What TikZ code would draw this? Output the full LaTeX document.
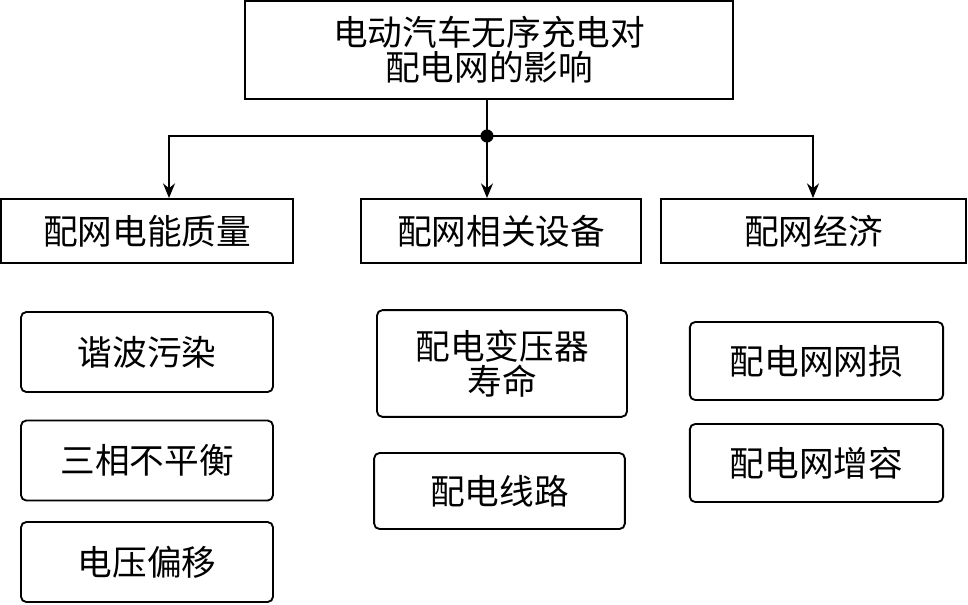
\documentclass[tikz,border=0pt]{standalone}
\usepackage{fontspec}
\setmainfont{Noto Sans CJK SC}
\usetikzlibrary{arrows.meta}
\begin{document}
\begin{tikzpicture}[x=0.75pt,y=-0.75pt,
  box/.style={draw,line width=1.4pt,align=center,inner sep=0pt,font=\fontsize{26}{26.5}\selectfont},
  cat/.style={box,minimum height=48pt},
  item/.style={box,rounded corners=4pt,minimum height=60pt},
  arr/.style={-{Stealth[length=11pt,width=9pt]},line width=1.4pt}]
\useasboundingbox (0,0) rectangle (968,604);
\node[box,minimum width=366pt,minimum height=73.5pt] (top) at (489,50) {电动汽车无序充电对\\配电网的影响};
\node[cat,minimum width=219pt] (q1) at (147,231) {配网电能质量};
\node[cat,minimum width=210pt] (q2) at (501,231) {配网相关设备};
\node[cat,minimum width=229pt] (q3) at (813.5,231) {配网经济};
% left column
\node[item,minimum width=189pt] (hw) at (147,352) {谐波污染};
\node[item,minimum width=189pt] (sx) at (147,460.5) {三相不平衡};
\node[item,minimum width=189pt] (dy) at (147,562) {电压偏移};
% middle column
\node[item,minimum width=187.5pt,minimum height=80pt] (by) at (502,363.5) {配电变压器\\寿命};
\node[item,minimum width=188pt,minimum height=57pt] (xl) at (499.5,491) {配电线路};
% right column
\node[item,minimum width=190pt,minimum height=58.5pt] (ws) at (816.5,361) {配电网网损};
\node[item,minimum width=190pt,minimum height=58.5pt] (zr) at (816.5,463) {配电网增容};
\coordinate (hub) at (487,136);
\coordinate (la) at (169,136);
\coordinate (ra) at (813,136);
\draw[arr] (top.south -| hub) -- (hub |- q2.north);
\draw[arr] (hub) -- (la) -- (la |- q1.north);
\draw[arr] (hub) -- (ra) -- (ra |- q3.north);
\fill (hub) circle (4.9pt);
\end{tikzpicture}
\end{document}
